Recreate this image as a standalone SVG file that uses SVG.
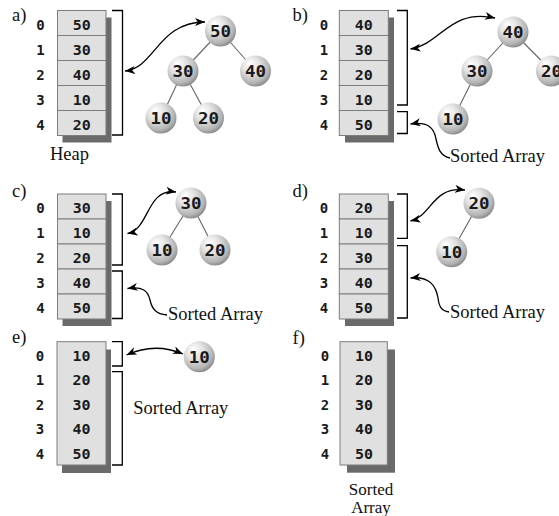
<svg xmlns="http://www.w3.org/2000/svg" width="559" height="516" viewBox="0 0 559 516">
<defs>
<style>
.cell{fill:#e0e0e0;stroke:#7c7c7c;stroke-width:1}
.shadow{fill:#6a6a6a}
.br{fill:none;stroke:#000;stroke-width:1.3}
.mono{font-family:"DejaVu Sans Mono","Liberation Mono",monospace;font-weight:bold;fill:#1a1a1a;text-anchor:middle}
.idx{font-size:14px}
.val{font-size:14px}
.nt{font-size:15.5px}
.lbl{font-family:"Liberation Serif","Times New Roman",serif;font-size:18.5px;fill:#111}
.lbl2{font-family:"Liberation Serif","Times New Roman",serif;font-size:17px;fill:#111;text-anchor:middle}
.edge{stroke:#666;stroke-width:1.1}
.ball{fill:url(#sphere)}
.arr{fill:none;stroke:#000;stroke-width:1.3;marker-end:url(#ah)}
.dbl{marker-start:url(#ah)}
</style>
<radialGradient id="sphere" cx="0.42" cy="0.38" r="0.62" fx="0.3" fy="0.25">
<stop offset="0" stop-color="#ffffff"/>
<stop offset="0.45" stop-color="#e2e2e2"/>
<stop offset="0.85" stop-color="#b4b4b4"/>
<stop offset="1" stop-color="#8e8e8e"/>
</radialGradient>
<marker id="ah" viewBox="0 0 10 8" refX="10" refY="4" markerWidth="10" markerHeight="8" markerUnits="userSpaceOnUse" orient="auto-start-reverse">
<path d="M0,0 L10,4 L0,8 L2.8,4 Z" fill="#000"/>
</marker>
</defs>
<rect width="559" height="516" fill="#fff"/>

<!-- Panel labels -->
<g id="panel-labels" class="lbl">
<text x="12" y="21">a)</text>
<text x="292.5" y="21">b)</text>
<text x="12" y="197">c)</text>
<text x="292.5" y="197">d)</text>
<text x="12" y="343">e)</text>
<text x="292.5" y="344">f)</text>
</g>

<!-- Panel a array -->
<g id="a-array">
<rect class="shadow" x="62.5" y="17.5" width="49" height="125"/>
<rect class="cell" x="57.5" y="10.5" width="48.5" height="25"/>
<rect class="cell" x="57.5" y="35.5" width="48.5" height="25"/>
<rect class="cell" x="57.5" y="60.5" width="48.5" height="25"/>
<rect class="cell" x="57.5" y="85.5" width="48.5" height="25"/>
<rect class="cell" x="57.5" y="110.5" width="48.5" height="25"/>
<g class="mono idx"><text x="40.5" y="29.5">0</text><text x="40.5" y="54.5">1</text><text x="40.5" y="79.5">2</text><text x="40.5" y="104.5">3</text><text x="40.5" y="129.5">4</text></g>
<g class="mono val">
<text x="81.7" y="29.5" textLength="18" lengthAdjust="spacingAndGlyphs">50</text>
<text x="81.7" y="54.5" textLength="18" lengthAdjust="spacingAndGlyphs">30</text>
<text x="81.7" y="79.5" textLength="18" lengthAdjust="spacingAndGlyphs">40</text>
<text x="81.7" y="104.5" textLength="18" lengthAdjust="spacingAndGlyphs">10</text>
<text x="81.7" y="129.5" textLength="18" lengthAdjust="spacingAndGlyphs">20</text>
</g>
<path class="br" d="M112 10.5 H122.5 V135 H112"/>
<text class="lbl" x="50" y="160">Heap</text>
</g>

<!-- Panel b array -->
<g id="b-array">
<rect class="shadow" x="345" y="17.5" width="49" height="125"/>
<rect class="cell" x="339.3" y="10.5" width="49" height="25"/>
<rect class="cell" x="339.3" y="35.5" width="49" height="25"/>
<rect class="cell" x="339.3" y="60.5" width="49" height="25"/>
<rect class="cell" x="339.3" y="85.5" width="49" height="25"/>
<rect class="cell" x="339.3" y="110.5" width="49" height="25"/>
<g class="mono idx"><text x="324" y="29.5">0</text><text x="324" y="54.5">1</text><text x="324" y="79.5">2</text><text x="324" y="104.5">3</text><text x="324" y="129.5">4</text></g>
<g class="mono val">
<text x="363.8" y="29.5" textLength="18" lengthAdjust="spacingAndGlyphs">40</text>
<text x="363.8" y="54.5" textLength="18" lengthAdjust="spacingAndGlyphs">30</text>
<text x="363.8" y="79.5" textLength="18" lengthAdjust="spacingAndGlyphs">20</text>
<text x="363.8" y="104.5" textLength="18" lengthAdjust="spacingAndGlyphs">10</text>
<text x="363.8" y="129.5" textLength="18" lengthAdjust="spacingAndGlyphs">50</text>
</g>
<path class="br" d="M397 10.5 H407.3 V105 H397"/>
<path class="br" d="M397 111.7 H407.3 V133.5 H397"/>
<text class="lbl" x="450" y="162">Sorted Array</text>
</g>

<!-- Panel c array -->
<g id="c-array">
<rect class="shadow" x="62.5" y="201" width="49" height="125"/>
<rect class="cell" x="57.5" y="194" width="48.5" height="25"/>
<rect class="cell" x="57.5" y="219" width="48.5" height="25"/>
<rect class="cell" x="57.5" y="244" width="48.5" height="25"/>
<rect class="cell" x="57.5" y="269" width="48.5" height="25"/>
<rect class="cell" x="57.5" y="294" width="48.5" height="25"/>
<g class="mono idx"><text x="40.5" y="213">0</text><text x="40.5" y="238">1</text><text x="40.5" y="263">2</text><text x="40.5" y="288">3</text><text x="40.5" y="313">4</text></g>
<g class="mono val">
<text x="81.7" y="213" textLength="18" lengthAdjust="spacingAndGlyphs">30</text>
<text x="81.7" y="238" textLength="18" lengthAdjust="spacingAndGlyphs">10</text>
<text x="81.7" y="263" textLength="18" lengthAdjust="spacingAndGlyphs">20</text>
<text x="81.7" y="288" textLength="18" lengthAdjust="spacingAndGlyphs">40</text>
<text x="81.7" y="313" textLength="18" lengthAdjust="spacingAndGlyphs">50</text>
</g>
<path class="br" d="M112 194 H122.3 V265 H112"/>
<path class="br" d="M112 271 H122.3 V318.5 H112"/>
<text class="lbl" x="168" y="320">Sorted Array</text>
</g>

<!-- Panel d array -->
<g id="d-array">
<rect class="shadow" x="345" y="201" width="49" height="125"/>
<rect class="cell" x="339.3" y="194" width="49" height="25"/>
<rect class="cell" x="339.3" y="219" width="49" height="25"/>
<rect class="cell" x="339.3" y="244" width="49" height="25"/>
<rect class="cell" x="339.3" y="269" width="49" height="25"/>
<rect class="cell" x="339.3" y="294" width="49" height="25"/>
<g class="mono idx"><text x="324" y="213">0</text><text x="324" y="238">1</text><text x="324" y="263">2</text><text x="324" y="288">3</text><text x="324" y="313">4</text></g>
<g class="mono val">
<text x="363.8" y="213" textLength="18" lengthAdjust="spacingAndGlyphs">20</text>
<text x="363.8" y="238" textLength="18" lengthAdjust="spacingAndGlyphs">10</text>
<text x="363.8" y="263" textLength="18" lengthAdjust="spacingAndGlyphs">30</text>
<text x="363.8" y="288" textLength="18" lengthAdjust="spacingAndGlyphs">40</text>
<text x="363.8" y="313" textLength="18" lengthAdjust="spacingAndGlyphs">50</text>
</g>
<path class="br" d="M397 194 H407.3 V238.3 H397"/>
<path class="br" d="M397 245.7 H407.3 V318 H397"/>
<text class="lbl" x="450" y="318">Sorted Array</text>
</g>

<!-- Panel e array -->
<g id="e-array">
<rect class="shadow" x="62" y="349.5" width="49" height="123.5"/>
<rect class="cell" x="57" y="341.7" width="49" height="123.3"/>
<g class="mono idx"><text x="40" y="360.5">0</text><text x="40" y="385">1</text><text x="40" y="409.5">2</text><text x="40" y="434">3</text><text x="40" y="458.5">4</text></g>
<g class="mono val">
<text x="81.5" y="360.5" textLength="18" lengthAdjust="spacingAndGlyphs">10</text>
<text x="81.5" y="385" textLength="18" lengthAdjust="spacingAndGlyphs">20</text>
<text x="81.5" y="409.5" textLength="18" lengthAdjust="spacingAndGlyphs">30</text>
<text x="81.5" y="434" textLength="18" lengthAdjust="spacingAndGlyphs">40</text>
<text x="81.5" y="458.5" textLength="18" lengthAdjust="spacingAndGlyphs">50</text>
</g>
<path class="br" d="M112 341.7 H122.3 V366 H112"/>
<path class="br" d="M112 371.7 H122.3 V465 H112"/>
<text class="lbl" x="133.3" y="414">Sorted Array</text>
</g>

<!-- Panel f array -->
<g id="f-array">
<rect class="shadow" x="347" y="349.5" width="48" height="123.2"/>
<rect class="cell" x="340" y="341.7" width="47.3" height="123.3"/>
<g class="mono idx"><text x="325" y="360.5">0</text><text x="325" y="385">1</text><text x="325" y="409.5">2</text><text x="325" y="434">3</text><text x="325" y="458.5">4</text></g>
<g class="mono val">
<text x="364" y="360.5" textLength="18" lengthAdjust="spacingAndGlyphs">10</text>
<text x="364" y="385" textLength="18" lengthAdjust="spacingAndGlyphs">20</text>
<text x="364" y="409.5" textLength="18" lengthAdjust="spacingAndGlyphs">30</text>
<text x="364" y="434" textLength="18" lengthAdjust="spacingAndGlyphs">40</text>
<text x="364" y="458.5" textLength="18" lengthAdjust="spacingAndGlyphs">50</text>
</g>
<text class="lbl2" x="371" y="495">Sorted</text>
<text class="lbl2" x="371" y="513">Array</text>
</g>

<!-- Connectors -->
<g id="connectors">
<g id="tree-edges" class="edge">
<line x1="220.5" y1="31" x2="183" y2="71"/>
<line x1="220.5" y1="31" x2="255.5" y2="71"/>
<line x1="183" y1="71" x2="161" y2="118"/>
<line x1="183" y1="71" x2="208.5" y2="118"/>
<line x1="513" y1="32" x2="477" y2="71"/>
<line x1="513" y1="32" x2="551.5" y2="71"/>
<line x1="477" y1="71" x2="453" y2="119"/>
<line x1="191" y1="203" x2="162" y2="250"/>
<line x1="191" y1="203" x2="215" y2="250"/>
<line x1="479" y1="203.3" x2="451.7" y2="251.7"/>
</g>
<path class="arr dbl" d="M125 71 C155 68, 158 22, 205 22"/>
<path class="arr dbl" d="M410.5 49 C440 45, 450 8, 495 18"/>
<path class="arr" d="M450 158 C440 156, 438 148, 436 139 C434 128, 428 121, 410.5 124"/>
<path class="arr dbl" d="M127.5 233.5 C150 229, 146 188, 176 192"/>
<path class="arr" d="M167 315 C156 314, 152 309, 150 300 C148 291, 143 286, 127.5 288.5"/>
<path class="arr dbl" d="M410.5 221 C432 216, 432 186, 465 190"/>
<path class="arr" d="M449 312 C441 311, 439 306, 438 298 C436 286, 430 276, 410.5 278"/>
<path class="arr dbl" d="M126.5 355 Q155 342 183 354"/>
</g>

<!-- Tree nodes -->
<g id="a-n50"><circle class="ball" cx="220.5" cy="31" r="15.5"/><text class="mono nt" x="220.5" y="37" textLength="21" lengthAdjust="spacingAndGlyphs">50</text></g>
<g id="a-n30"><circle class="ball" cx="183" cy="71" r="15.5"/><text class="mono nt" x="183" y="77" textLength="21" lengthAdjust="spacingAndGlyphs">30</text></g>
<g id="a-n40"><circle class="ball" cx="255.5" cy="71" r="15.5"/><text class="mono nt" x="255.5" y="77" textLength="21" lengthAdjust="spacingAndGlyphs">40</text></g>
<g id="a-n10"><circle class="ball" cx="161" cy="118" r="15.5"/><text class="mono nt" x="161" y="124" textLength="21" lengthAdjust="spacingAndGlyphs">10</text></g>
<g id="a-n20"><circle class="ball" cx="208.5" cy="118" r="15.5"/><text class="mono nt" x="208.5" y="124" textLength="21" lengthAdjust="spacingAndGlyphs">20</text></g>

<g id="b-n40"><circle class="ball" cx="513" cy="32" r="15.5"/><text class="mono nt" x="513" y="38" textLength="21" lengthAdjust="spacingAndGlyphs">40</text></g>
<g id="b-n30"><circle class="ball" cx="477" cy="71" r="15.5"/><text class="mono nt" x="477" y="77" textLength="21" lengthAdjust="spacingAndGlyphs">30</text></g>
<g id="b-n20"><circle class="ball" cx="551.5" cy="71" r="15.5"/><text class="mono nt" x="551.5" y="77" textLength="21" lengthAdjust="spacingAndGlyphs">20</text></g>
<g id="b-n10"><circle class="ball" cx="453" cy="119" r="15.5"/><text class="mono nt" x="453" y="125" textLength="21" lengthAdjust="spacingAndGlyphs">10</text></g>

<g id="c-n30"><circle class="ball" cx="191" cy="203" r="15.5"/><text class="mono nt" x="191" y="209" textLength="21" lengthAdjust="spacingAndGlyphs">30</text></g>
<g id="c-n10"><circle class="ball" cx="162" cy="250" r="15.5"/><text class="mono nt" x="162" y="256" textLength="21" lengthAdjust="spacingAndGlyphs">10</text></g>
<g id="c-n20"><circle class="ball" cx="215" cy="250" r="15.5"/><text class="mono nt" x="215" y="256" textLength="21" lengthAdjust="spacingAndGlyphs">20</text></g>

<g id="d-n20"><circle class="ball" cx="479" cy="203.3" r="15.5"/><text class="mono nt" x="479" y="209.3" textLength="21" lengthAdjust="spacingAndGlyphs">20</text></g>
<g id="d-n10"><circle class="ball" cx="451.7" cy="251.7" r="15.5"/><text class="mono nt" x="451.7" y="257.7" textLength="21" lengthAdjust="spacingAndGlyphs">10</text></g>

<g id="e-n10"><circle class="ball" cx="199.3" cy="356.7" r="15.5"/><text class="mono nt" x="199.3" y="362.7" textLength="21" lengthAdjust="spacingAndGlyphs">10</text></g>
</svg>
